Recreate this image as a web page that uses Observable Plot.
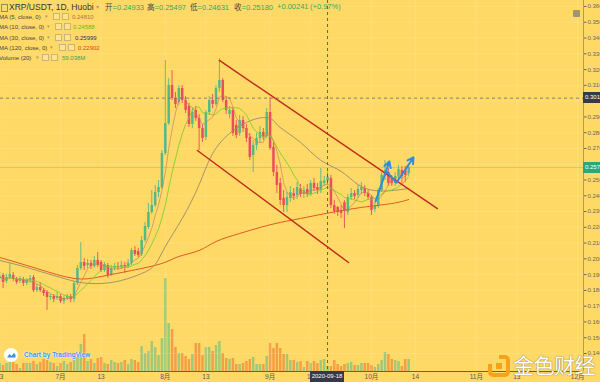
<!DOCTYPE html>
<html><head><meta charset="utf-8">
<script src="https://cdn.jsdelivr.net/npm/d3@7"></script>
<script src="https://cdn.jsdelivr.net/npm/@observablehq/plot@0.6"></script>
<style>
html,body{margin:0;padding:0;background:#FFD966;}
#chart{position:relative;width:600px;height:382px;overflow:hidden;background:#FFD966;font-family:"Liberation Sans",Arial,"Noto Sans CJK SC",sans-serif;}
#chart svg{position:absolute;left:0;top:0;}
.ov{position:absolute;white-space:nowrap;line-height:1;}
.lbl{position:absolute;color:#fff;font-size:6px;line-height:11px;height:11px;text-align:left;padding-left:2px;box-sizing:border-box;}
.ico{display:inline-block;width:5px;height:5px;border:1px solid #c9b57a;background:rgba(255,255,255,0.25);margin-right:2px;vertical-align:middle;}
</style></head>
<body><div id="chart"></div>
<script>
// ---------------- data ----------------
const startDate = "2020-06-13";
const opens = [.1876,.1895,.1857,.1882,.1895,.1869,.1857,.1869,.1844,.1863,
.1882,.1799,.1818,.1799,.1787,.1755,.1761,.1749,.1761,.1730,
.1749,.1761,.1742,.1844,.1939,.1977,.1958,.1971,.1952,.1990,
.1977,.1926,.1958,.1901,.1939,.1952,.1945,.1958,.1952,.1971,
.2053,.2047,.2028,.2116,.2199,.2294,.2338,.2421,.2452,.2668,
.2858,.3099,.3017,.2991,.3080,.3004,.2966,.2852,.2941,.2890,
.2826,.2769,.2928,.3004,.2979,.3080,.3131,.3004,.2915,.2941,
.2846,.2795,.2877,.2826,.2769,.2655,.2719,.2763,.2801,.2776,
.2928,.2706,.2548,.2478,.2383,.2338,.2383,.2414,.2402,.2446,
.2408,.2440,.2408,.2478,.2452,.2433,.2478,.24933,.2510,.2338,
.2326,.2307,.2357,.2294,.2389,.2414,.2402,.2433,.2446,.2414,
.2389,.2313,.2332,.2433,.2522,.2548,.2510,.2478,.2522,.2560,
.2560,.2541];
const highs = [.1914,.1907,.1901,.1971,.1914,.1882,.1888,.1882,.1876,.1895,
.1895,.1837,.1850,.1812,.1799,.1774,.1774,.1787,.1774,.1761,
.1774,.1774,.1857,.1958,.2104,.2002,.1996,.1990,.2015,.2040,
.1990,.1977,.1971,.1958,.1971,.1977,.1983,.1977,.1996,.2066,
.2078,.2066,.2142,.2231,.2351,.2433,.2465,.2497,.2687,.3258,
.3143,.3194,.3055,.3099,.3099,.3029,.2985,.2953,.2966,.2915,
.2852,.2941,.3029,.3042,.3099,.3270,.3143,.3029,.2966,.2960,
.2877,.2909,.2903,.2852,.2795,.2750,.2795,.2839,.2826,.2953,
.3023,.2738,.2592,.2510,.2433,.2421,.2459,.2446,.2484,.2471,
.2459,.2471,.2497,.2510,.2478,.2573,.2522,.25497,.2529,.2370,
.2332,.2338,.2370,.2408,.2446,.2433,.2465,.2484,.2465,.2433,
.2402,.2357,.2446,.2548,.2624,.2573,.2529,.2548,.2592,.2586,
.2586,.2598];
const lows = [.1857,.1812,.1844,.1869,.1857,.1837,.1844,.1825,.1831,.1844,
.1787,.1787,.1787,.1761,.1673,.1736,.1723,.1736,.1717,.1711,
.1736,.1723,.1723,.1831,.1926,.1926,.1939,.1933,.1939,.1945,
.1914,.1914,.1876,.1888,.1926,.1926,.1933,.1907,.1939,.1958,
.2015,.2009,.2015,.2104,.2186,.2281,.2326,.2389,.2440,.2655,
.2846,.3004,.2953,.2972,.2985,.2922,.2833,.2826,.2871,.2687,
.2738,.2750,.2909,.2953,.2966,.3055,.2991,.2915,.2890,.2776,
.2763,.2776,.2801,.2738,.2624,.2548,.2687,.2738,.2750,.2763,
.2687,.2522,.2414,.2338,.2294,.2294,.2357,.2370,.2376,.2389,
.2383,.2389,.2395,.2427,.2408,.2414,.2459,.24631,.2319,.2281,
.2269,.2256,.2192,.2275,.2370,.2376,.2383,.2408,.2395,.2370,
.2275,.2294,.2319,.2421,.2497,.2459,.2459,.2459,.2503,.2478,
.2484,.2522];
const closes = [.1888,.1850,.1882,.1901,.1869,.1850,.1869,.1844,.1863,.1876,
.1799,.1818,.1799,.1780,.1755,.1761,.1742,.1761,.1730,.1749,
.1761,.1742,.1844,.1939,.1977,.1952,.1971,.1952,.1990,.1958,
.1926,.1964,.1895,.1939,.1952,.1945,.1958,.1952,.1971,.2053,
.2028,.2021,.2116,.2205,.2294,.2338,.2421,.2452,.2668,.2858,
.3099,.3017,.2979,.3080,.3004,.2941,.2852,.2928,.2890,.2826,
.2763,.2928,.3004,.2979,.3080,.3131,.3004,.2941,.2941,.2795,
.2782,.2877,.2826,.2763,.2643,.2719,.2763,.2801,.2769,.2928,
.2700,.2548,.2465,.2370,.2338,.2389,.2421,.2395,.2452,.2408,
.2433,.2408,.2478,.2446,.2433,.2491,.24939,.25180,.2338,.2300,
.2294,.2288,.2300,.2389,.2414,.2395,.2440,.2452,.2414,.2389,
.2307,.2332,.2433,.2529,.2560,.2478,.2478,.2522,.2567,.2522,
.2529,.2579];
// volume, millions
const volumes = [24,18,24,27,27,21,9,24,24,24,
30,21,27,36,33,27,24,15,24,30,
21,27,33,42,81,111,30,36,24,39,
42,24,21,33,27,24,27,33,21,36,
33,27,75,54,60,90,72,48,99,279,
144,126,72,54,54,45,36,51,84,84,
48,72,72,60,78,90,54,39,36,39,
21,21,24,30,36,42,21,21,21,45,
84,69,84,69,51,51,33,33,27,30,
12,30,24,30,24,33,36,15,15,33,
21,15,21,24,27,18,18,24,24,24,
18,12,21,33,57,51,36,33,30,15,
36,36];
// MA(30) and MA(120) (day index from start, value)
const ma30Days = [0,6,12,18,24,30,36,42,46,49,54,59,63,68,73,78,81,83,89,95,101,106,111,116,121];
const ma30Vals = [.1990,.1958,.1920,.1882,.1850,.1844,.1863,.1907,.1964,.2078,.2256,.2470,.2668,.2795,.2865,.2896,.2877,.2833,.2738,.2625,.2555,.2471,.2433,.2433,.2446];
const ma120Days = [0,11,22,30,39,48,53,59,64,71,77,83,89,97,107,116,121];
const ma120Vals = [.2009,.1939,.1876,.1888,.1926,.1971,.2015,.2053,.2110,.2161,.2199,.2231,.2256,.2290,.2326,.2351,.2376];
// hand-drawn annotations
const chanUpperDates = ["2020-08-17T00:00Z","2020-10-20T12:00Z"];
const chanUpperPrices = [0.3258, 0.2319];
const chanLowerDates = ["2020-08-10T12:00Z","2020-09-24T05:00Z"];
const chanLowerPrices = [0.2687, 0.1977];
const arrow1Dates = ["2020-10-02T05:00Z","2020-10-06T07:00Z"];
const arrow1Prices = [0.2364, 0.2617];
const arrow2Dates = ["2020-10-05T10:00Z","2020-10-08T10:00Z","2020-10-13T10:00Z"];
const arrow2Prices = [0.2554, 0.2484, 0.2643];
// crosshair
const crossDateStr = "2020-09-18";
const crossPrice = 0.3019;
// axes
const yTicks = d3.range(14, 37).map(v => v / 100);
const xTickDates = ["2020-06-13","2020-07-01","2020-07-13","2020-08-01","2020-08-13","2020-09-01","2020-09-13","2020-10-01","2020-10-14","2020-11-01","2020-11-13","2020-12-01"];
const xTickLabels = ["13","7月","13","8月","13","9月","13","10月","14","11月","13","12月"];
// legend
const titleText = "XRP/USDT, 1D, Huobi";
const ohlcKeys = ["开","高","低","收"];
const ohlcVals = ["0.24933","0.25497","0.24631","0.25180"];
const changeText = ["+0.00241","(+0.97%)"];
const legendNames = ["MA (5, close, 0)","MA (10, close, 0)","MA (30, close, 0)","MA (120, close, 0)","Volume (20)"];
const legendValues = ["0.24810","0.24588","0.25999","0.22902","59.038M"];
const legendColors = ["#b0705a","#52c41a","#28305e","#e8401c","#3aa55c"];

// ---------------- styles ----------------
const UP = "#53b987", DOWN = "#eb4d5c";
const MA5C = "#c47a5e", MA10C = "#82cf2a", MA30C = "#9c8a68", MA120C = "#dd5a22";
const FONT = '"Liberation Sans",Arial,"Noto Sans CJK SC",sans-serif';

// ---------------- build ----------------
const t0 = new Date(startDate + "T00:00Z");
const candles = opens.map((o, i) => ({
  date: d3.utcDay.offset(t0, i), open: o, high: highs[i], low: lows[i], close: closes[i],
  volume: volumes[i], up: closes[i] >= o
}));
const upC = candles.filter(d => d.up), dnC = candles.filter(d => !d.up);
function sma(n) {
  return candles.map((c, i) => ({date: c.date, value: d3.mean(closes.slice(Math.max(0, i - n + 1), i + 1))}));
}
const ma5 = sma(5), ma10 = sma(10);
const ma30 = ma30Days.map((d, i) => ({date: d3.utcDay.offset(t0, d), value: ma30Vals[i]}));
const ma120 = ma120Days.map((d, i) => ({date: d3.utcDay.offset(t0, d), value: ma120Vals[i]}));
const pts = (ds, ps) => ds.map((d, i) => ({date: new Date(d), price: ps[i]}));
const chanU = pts(chanUpperDates, chanUpperPrices), chanL = pts(chanLowerDates, chanLowerPrices);
const a1 = pts(arrow1Dates, arrow1Prices), a2 = pts(arrow2Dates, arrow2Prices);
const crossDate = new Date(crossDateStr + "T00:00Z");
const tickDates = xTickDates.map(s => new Date(s + "T00:00Z"));
const lastClose = closes[closes.length - 1];

const xDomain = [new Date("2020-06-13T05:41Z"), new Date("2020-12-02T17:30Z")];
const common = {width: 600, height: 382, marginLeft: 0, marginTop: 0, marginRight: 17, marginBottom: 11,
  style: {background: "transparent", fontFamily: FONT, overflow: "visible"}};

const volPlot = Plot.plot({
  ...common,
  x: {type: "utc", domain: xDomain, axis: null},
  y: {domain: [0, 300], range: [371, 271], axis: null},
  marks: [
    Plot.ruleX(upC, {x: "date", y1: 0, y2: "volume", stroke: UP, strokeOpacity: 0.55, strokeWidth: 2.5}),
    Plot.ruleX(dnC, {x: "date", y1: 0, y2: "volume", stroke: "#f28a3c", strokeOpacity: 0.75, strokeWidth: 2.5}),
    Plot.ruleY([0], {stroke: "#6e6040", strokeWidth: 1})
  ]
});

const pricePlot = Plot.plot({
  ...common,
  x: {type: "utc", domain: xDomain},
  y: {domain: [0.14, 0.36], range: [353, 6]},
  marks: [
    Plot.ruleY(yTicks, {stroke: "#fff", strokeOpacity: 0.13}),
    Plot.ruleX(tickDates, {stroke: "#fff", strokeOpacity: 0.13}),
    Plot.ruleX([xDomain[1]], {stroke: "#b59c52", strokeWidth: 1}),
    Plot.axisY({anchor: "right", ticks: yTicks, tickFormat: d3.format(".3f"), tickSize: 2.5, tickPadding: 1.5, fontSize: 6, color: "#666"}),
    Plot.axisX({anchor: "bottom", ticks: tickDates, tickFormat: d => xTickLabels[tickDates.findIndex(t => +t === +d)], tickSize: 0, tickPadding: 2.5, fontSize: 6.5, color: "#555"}),
    Plot.ruleY([lastClose], {stroke: UP, strokeOpacity: 0.35}),
    Plot.ruleX(candles, {x: "date", y1: "low", y2: "high", stroke: d => d.up ? UP : DOWN, strokeWidth: 0.9}),
    Plot.ruleX(candles, {x: "date", y1: "open", y2: "close", stroke: d => d.up ? UP : DOWN, strokeWidth: 2.5}),
    Plot.line(ma120, {x: "date", y: "value", stroke: MA120C, strokeWidth: 1, curve: "natural"}),
    Plot.line(ma30, {x: "date", y: "value", stroke: MA30C, strokeWidth: 0.9, curve: "natural"}),
    Plot.line(ma10, {x: "date", y: "value", stroke: MA10C, strokeWidth: 0.9}),
    Plot.line(ma5, {x: "date", y: "value", stroke: MA5C, strokeWidth: 0.8, strokeOpacity: 0.8}),
    Plot.ruleX([crossDate], {stroke: "#555", strokeDasharray: "3,3", strokeWidth: 0.9}),
    Plot.ruleY([crossPrice], {stroke: "#777", strokeDasharray: "3,3", strokeWidth: 0.9}),
    Plot.line(chanU, {x: "date", y: "price", stroke: "#c12e1c", strokeWidth: 1.5}),
    Plot.line(chanL, {x: "date", y: "price", stroke: "#c12e1c", strokeWidth: 1.5}),
    Plot.arrow([a1], {x1: d => d[0].date, y1: d => d[0].price, x2: d => d[1].date, y2: d => d[1].price, stroke: "#2f8be0", strokeWidth: 2, headLength: 5}),
    Plot.line(a2.slice(0, 2), {x: "date", y: "price", stroke: "#2f8be0", strokeWidth: 2}),
    Plot.arrow([a2], {x1: d => d[1].date, y1: d => d[1].price, x2: d => d[2].date, y2: d => d[2].price, stroke: "#2f8be0", strokeWidth: 2, headLength: 5})
  ]
});

const root = document.getElementById("chart");
root.appendChild(volPlot);
root.appendChild(pricePlot);
const xs = pricePlot.scale("x"), ys = pricePlot.scale("y");
function add(html, css, cls = "ov") {
  const el = document.createElement("div");
  el.className = cls; el.innerHTML = html; el.style.cssText += css; root.appendChild(el); return el;
}
// header
add("", "left:1px;top:4px;width:5px;height:6px;border:1px solid #8a8a7a;");
add(titleText, `left:9px;top:3px;font-size:8.5px;color:#333;`);
add("▾", "left:96px;top:4px;font-size:6px;color:#a89a70;");
let hx = 105;
const ohlcWidths = [42, 43, 44, 43];
ohlcKeys.forEach((k, i) => {
  add(`<span style="color:#444;font-family:'Noto Sans CJK SC'">${k}</span><span style="color:#2faa5a">=${ohlcVals[i]}</span>`, `left:${hx}px;top:2.5px;font-size:7.5px;`);
  hx += ohlcWidths[i];
});
add(`<span style="color:#2faa5a">${changeText[0]}</span>`, "left:277px;top:3px;font-size:7.5px;");
add(`<span style="color:#2faa5a">${changeText[1]}</span>`, "left:310px;top:3px;font-size:7.5px;");
// legend rows
const rowTop = [14, 24, 34.5, 45, 55];
const caretX = [45, 47, 47, 50, 36];
const icoX = [53, 55, 55, 59, 42];
const valX = [72, 73, 75, 78, 62];
legendNames.forEach((n, i) => {
  add(n, `left:-1px;top:${rowTop[i]}px;font-size:6px;color:#444;`);
  add("▾", `left:${caretX[i]}px;top:${rowTop[i]}px;font-size:5px;color:#a89a70;`);
  add('<span class="ico"></span><span class="ico"></span>', `left:${icoX[i]}px;top:${rowTop[i] - 1}px;font-size:6px;`);
  add(n === "" ? "" : legendValues[i], `left:${valX[i]}px;top:${rowTop[i]}px;font-size:6px;color:${legendColors[i]};`);
});
// right price labels
const yc = ys.apply(crossPrice), yl = ys.apply(lastClose);
add(d3.format(".4f")(lastClose), `left:583px;top:${yl - 5.5}px;width:20px;background:#2aa878;`, "lbl");
add(d3.format(".4f")(crossPrice), `left:583px;top:${yc - 5.5}px;width:20px;background:#343a4a;`, "lbl");
// crosshair date label
const xc = xs.apply(crossDate);
add(crossDateStr, `left:${xc - 17}px;top:371px;width:34px;background:#343a4a;text-align:center;padding-left:0;`, "lbl");
// top-right small icon
add("", "left:573px;top:10px;width:7px;height:7px;background:#9b9580;border-radius:1px;");
// TradingView badge
add('<svg width="14" height="14"><circle cx="7" cy="7" r="7" fill="#fff"/><path d="M3 9.5 L5.5 6 L7.5 8 L10 5 L11.5 7 L11.5 9.5 Z" fill="#3b8de8"/></svg>', "left:4px;top:348px;");
add("Chart by TradingView", "left:24px;top:352px;font-size:6.5px;font-weight:bold;color:#3b8de8;text-shadow:0 0 1px #fff,0 0 1px #fff,0 0 1px #fff;");
// 金色财经 watermark
add('<svg width="22" height="22"><rect x="2" y="2" width="18" height="18" rx="3" fill="none" stroke="#f5a21e" stroke-width="4"/><rect x="0" y="0" width="11" height="9" fill="#FFD966"/><rect x="8" y="8" width="6" height="6" fill="#f5a21e"/></svg>', "left:488px;top:355px;");
add("金色财经", "left:513px;top:354px;font-size:21px;color:#fff;font-family:'Noto Sans CJK SC';letter-spacing:-0.5px;text-shadow:0 0 1px #8a7a50,0 0 1px #8a7a50;");
</script>
</body></html>
